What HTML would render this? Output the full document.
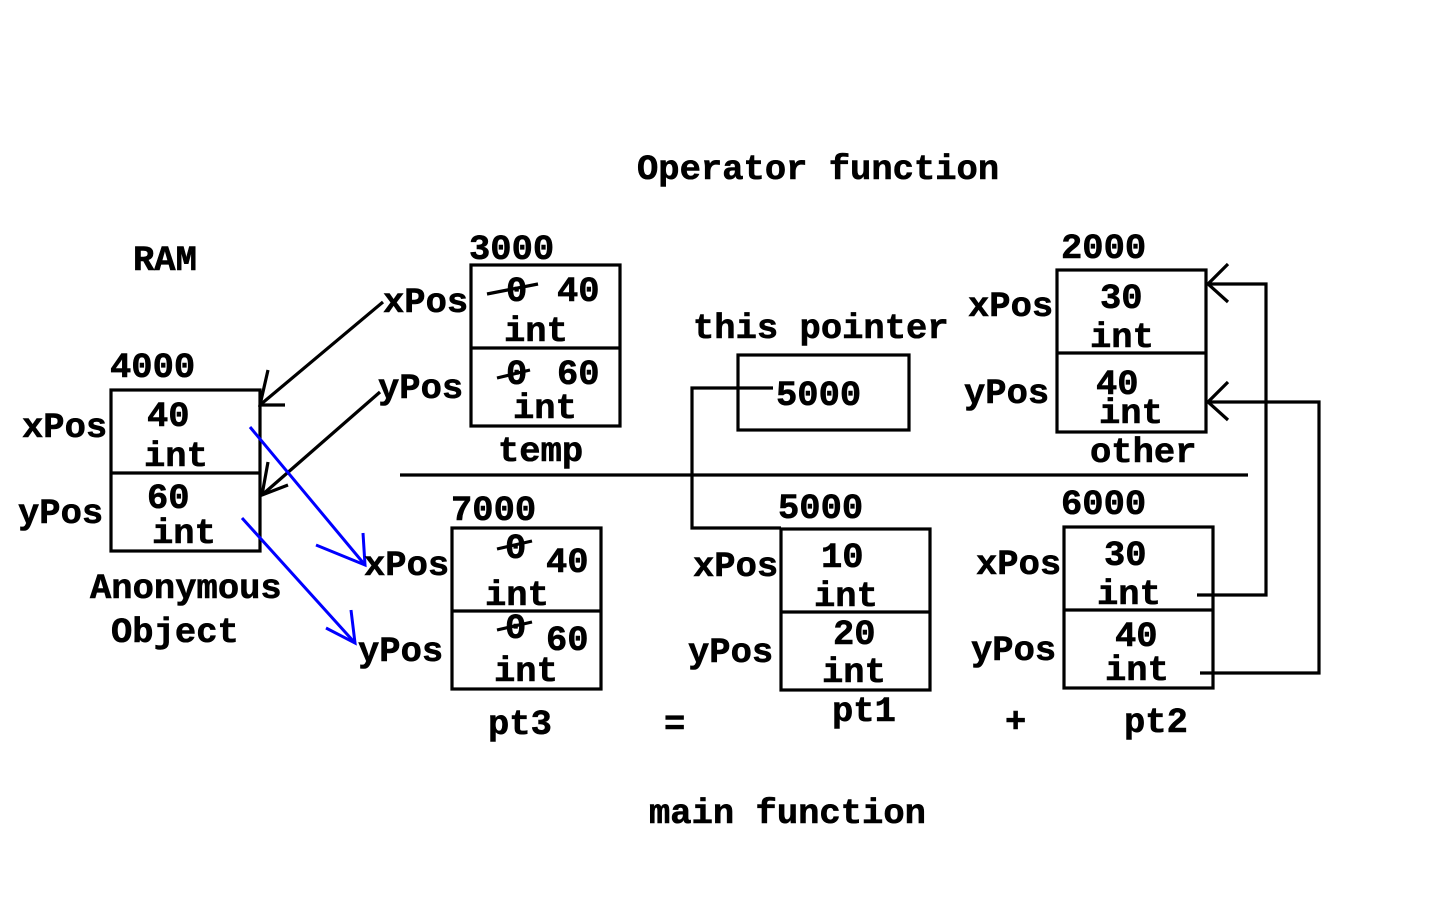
<!DOCTYPE html>
<html><head><meta charset="utf-8"><style>
html,body{margin:0;padding:0;background:#fff;}
svg{display:block}
text{font-family:"Liberation Mono","Courier New",monospace;font-weight:bold;font-size:35.5px;fill:#000;stroke:#000;stroke-width:0.6px}
</style></head><body>
<svg width="1440" height="900" viewBox="0 0 1440 900" xmlns="http://www.w3.org/2000/svg">
<g fill="none" stroke="#000" stroke-width="3.2">
<rect x="111" y="390" width="149" height="161"/><line x1="111" y1="473" x2="260" y2="473"/>
<rect x="471" y="265" width="149" height="161"/><line x1="471" y1="348" x2="620" y2="348"/>
<rect x="738" y="355" width="171" height="75"/>
<rect x="1057" y="270" width="149" height="162"/><line x1="1057" y1="353" x2="1206" y2="353"/>
<line x1="400" y1="475" x2="1248" y2="475"/>
<rect x="452" y="528" width="149" height="161"/><line x1="452" y1="611" x2="601" y2="611"/>
<rect x="781" y="529" width="149" height="161"/><line x1="781" y1="612" x2="930" y2="612"/>
<rect x="1064" y="527" width="149" height="161"/><line x1="1064" y1="610" x2="1213" y2="610"/>
<polyline points="773,388 692,388 692,528 781,528"/>
<polyline points="1197,595 1266,595 1266,284 1208,284"/>
<polyline points="1228,264 1208,284 1228,302"/>
<polyline points="1200,673 1319,673 1319,402 1208,402"/>
<polyline points="1228,382 1208,402 1228,420"/>
<line x1="383" y1="302" x2="260" y2="405"/>
<polyline points="268,370 260,405 285,405"/>
<line x1="380" y1="392" x2="262" y2="495"/>
<polyline points="268,462 262,495 288,485"/>
<line x1="487" y1="294" x2="538" y2="284"/>
<line x1="497" y1="378" x2="530" y2="370"/>
<line x1="497" y1="549" x2="532" y2="541"/>
<line x1="497" y1="630" x2="532" y2="622"/>
</g>
<g fill="none" stroke="#00f" stroke-width="3">
<line x1="250" y1="427" x2="365" y2="565"/>
<polyline points="316,545 365,565 363,533"/>
<line x1="242" y1="518" x2="355" y2="643"/>
<polyline points="326,628 355,643 351,610"/>
</g>
<text x="637" y="179">Operator function</text>
<text x="133" y="270">RAM</text>
<text x="469" y="259">3000</text>
<text x="1061" y="258">2000</text>
<text x="110" y="377">4000</text>
<text x="693" y="338">this pointer</text>
<text x="383" y="312">xPos</text>
<text x="378" y="398">yPos</text>
<text x="968" y="316">xPos</text>
<text x="964" y="403">yPos</text>
<text x="22" y="437">xPos</text>
<text x="18" y="523">yPos</text>
<text x="506" y="301">0</text><text x="557" y="301">40</text>
<text x="504" y="341">int</text>
<text x="506" y="384">0</text><text x="557" y="384">60</text>
<text x="513" y="418">int</text>
<text x="498" y="461">temp</text>
<text x="776" y="405">5000</text>
<text x="1100" y="308">30</text><text x="1090" y="347">int</text>
<text x="1096" y="394">40</text><text x="1099" y="423">int</text>
<text x="1090" y="462">other</text>
<text x="147" y="426">40</text><text x="144" y="466">int</text>
<text x="147" y="508">60</text><text x="152" y="543">int</text>
<text x="90" y="598">Anonymous</text>
<text x="111" y="642">Object</text>
<text x="451" y="520">7000</text>
<text x="778" y="518">5000</text>
<text x="1061" y="514">6000</text>
<text x="364" y="575">xPos</text>
<text x="358" y="661">yPos</text>
<text x="693" y="576">xPos</text>
<text x="688" y="662">yPos</text>
<text x="976" y="574">xPos</text>
<text x="971" y="660">yPos</text>
<text x="505" y="558">0</text><text x="546" y="572">40</text>
<text x="485" y="605">int</text>
<text x="505" y="638">0</text><text x="546" y="650">60</text>
<text x="494" y="681">int</text>
<text x="821" y="567">10</text><text x="814" y="606">int</text>
<text x="833" y="644">20</text><text x="822" y="682">int</text>
<text x="1104" y="565">30</text><text x="1097" y="604">int</text>
<text x="1115" y="646">40</text><text x="1105" y="680">int</text>
<text x="488" y="734">pt3</text>
<text x="664" y="734">=</text>
<text x="832" y="721">pt1</text>
<text x="1005" y="732">+</text>
<text x="1124" y="732">pt2</text>
<text x="649" y="823">main function</text>
</svg>
</body></html>
